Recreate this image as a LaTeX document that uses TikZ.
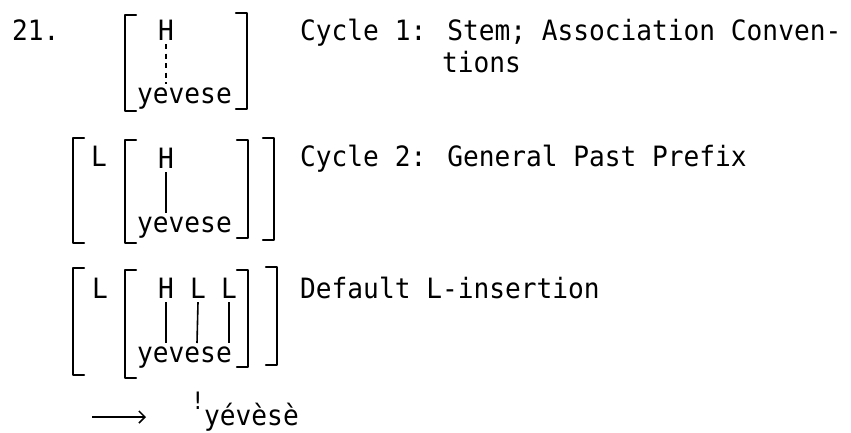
\documentclass[tikz,border=0pt]{standalone}
\usepackage{fontspec}
\newfontfamily\tw[FakeStretch=0.935]{DejaVu Sans Mono}
\usetikzlibrary{arrows.meta}
\tikzset{
  txt/.style={inner sep=0pt, anchor=base west, font=\tw\fontsize{28}{32}\selectfont},
  tone/.style={inner sep=0pt, anchor=base, font=\tw\fontsize{28}{32}\selectfont},
  brk/.style={line width=2.2pt, line cap=round, line join=round},
  assoc/.style={line width=1.6pt},
  dassoc/.style={line width=1.6pt, dash pattern=on 5pt off 4.5pt},
}
\begin{document}
\begin{tikzpicture}[x=1pt,y=-1pt]
\useasboundingbox (0,0) rectangle (851,432);
% ---------- Cycle 1
\node[txt] (num) at (12,40) {21.};
\draw[brk] (136,15) -- (125,15) -- (125,111) -- (136,111);
\draw[brk] (236,13) -- (247,13) -- (247,109) -- (236,109);
\node[tone] (h1) at (166,40) {H};
\node[txt] (s1) at (137,103) {yevese};
\coordinate (e1) at (166,84);
\draw[dassoc] ([yshift=-4pt]h1.south) -- (e1);
\node[txt] (c1) at (300,40) {Cycle 1: Stem; Association Conven-};
\node[txt] (c1b) at (442,72) {tions};
% ---------- Cycle 2
\draw[brk] (84,138) -- (73,138) -- (73,243) -- (84,243);
\draw[brk] (263,138) -- (274,138) -- (274,240) -- (263,240);
\draw[brk] (136,140) -- (125,140) -- (125,243) -- (136,243);
\draw[brk] (237,140) -- (248,140) -- (248,238) -- (237,238);
\node[txt] (l2) at (91,166) {L};
\node[tone] (h2) at (166,168) {H};
\node[txt] (s2) at (137,232) {yevese};
\coordinate (e2) at (166,213);
\draw[assoc] ([yshift=-4pt]h2.south) -- (e2);
\node[txt] (c2) at (300,166) {Cycle 2: General Past Prefix};
% ---------- L-insertion
\draw[brk] (84,268) -- (73,268) -- (73,375) -- (84,375);
\draw[brk] (266,267) -- (277,267) -- (277,365) -- (266,365);
\draw[brk] (136,270) -- (125,270) -- (125,378) -- (136,378);
\draw[brk] (237,270) -- (248,270) -- (248,367) -- (237,367);
\node[txt] (l3) at (92,298) {L};
\node[tone] (h3) at (166,298) {H};
\node[tone] (l3a) at (198,298) {L};
\node[tone] (l3b) at (229,298) {L};
\node[txt] (s3) at (137,362) {yevese};
\coordinate (e3a) at (166,343);
\coordinate (e3b) at (197,343);
\coordinate (e3c) at (229,343);
\draw[assoc] ([yshift=-4pt]h3.south) -- (e3a);
\draw[assoc] ([yshift=-4pt]l3a.south) -- (e3b);
\draw[assoc] ([yshift=-4pt]l3b.south) -- (e3c);
\node[txt] (c3) at (300,298) {Default L-insertion};
% ---------- output
\coordinate (a0) at (92,417);
\coordinate (a1) at (146,417);
\draw[line width=1.5pt, -{Straight Barb[length=6pt,width=12pt]}] (a0) -- (a1);
\node[tone, font=\tw\fontsize{24}{28}\selectfont] (bang) at (198,409) {!};
\node[txt] (out) at (204,425) {yévèsè};
\end{tikzpicture}
\end{document}
